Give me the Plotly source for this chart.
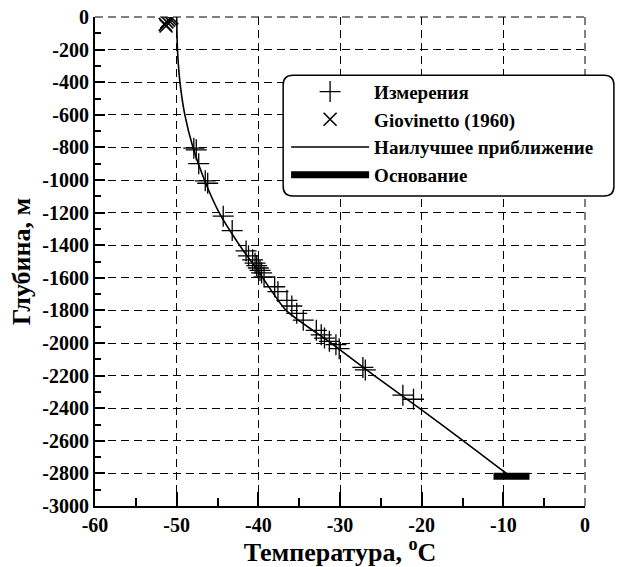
import plotly.graph_objects as go

# Borehole temperature measurements: temperature (°C) and depth (m)
meas_temp = [-47.9, -47.6, -47.3, -46.5, -46.2, -44.3, -43.2, -41.5, -41.2,
             -40.7, -40.4, -40.2, -40.0, -39.8, -39.6, -39.3, -38.0, -37.6,
             -36.5, -35.9, -35.3, -34.5, -32.9, -32.3, -31.9, -31.3, -30.5,
             -30.1, -27.2, -26.9, -22.3, -21.0]
meas_depth = [-805, -815, -900, -1005, -1020, -1222, -1310, -1435, -1465,
              -1490, -1510, -1525, -1540, -1555, -1570, -1595, -1655, -1685,
              -1738, -1773, -1818, -1860, -1922, -1950, -1970, -1990, -2010,
              -2035, -2150, -2165, -2320, -2345]

# Near-surface temperatures after Giovinetto (1960)
gio_temp = [-51.4, -51.2, -51.0, -50.8, -50.6, -51.3]
gio_depth = [-45, -30, -20, -12, -5, -55]

# Best-fit temperature profile
fit_temp = [-50.0, -49.9, -49.6, -49.0, -48.0, -46.6, -44.8, -42.3, -40.0,
            -36.6, -31.1, -25.8, -20.3, -14.9, -9.6, -8.9]
fit_depth = [0, -200, -400, -600, -800, -1000, -1200, -1400, -1560,
             -1800, -2000, -2200, -2400, -2600, -2800, -2818]

# Ice sheet base
base_temp = [-11.2, -6.8]
base_depth = [-2818, -2818]

x_ticks = [-60, -50, -40, -30, -20, -10, 0]
y_ticks = list(range(0, -3001, -200))

FONT = "Liberation Serif"
BLACK = "#000000"

fig = go.Figure()
fig.add_trace(go.Scatter(
    x=meas_temp, y=meas_depth, mode="markers", name="<b>Измерения</b>",
    marker=dict(symbol="cross-thin", size=15, color=BLACK,
                line=dict(color=BLACK, width=1.3))))
fig.add_trace(go.Scatter(
    x=gio_temp, y=gio_depth, mode="markers", name="<b>Giovinetto (1960)</b>",
    marker=dict(symbol="x-thin", size=13, color=BLACK,
                line=dict(color=BLACK, width=1.6))))
fig.add_trace(go.Scatter(
    x=fit_temp, y=fit_depth, mode="lines", name="<b>Наилучшее приближение</b>",
    line=dict(color=BLACK, width=1.6, shape="spline", smoothing=0.6)))
fig.add_trace(go.Scatter(
    x=base_temp, y=base_depth, mode="lines", name="<b>Основание</b>",
    line=dict(color=BLACK, width=7)))

axis_common = dict(
    showline=True, linecolor=BLACK, linewidth=2, automargin=False,
    showgrid=True, gridcolor=BLACK, gridwidth=1, griddash="8px,5px",
    zeroline=False, ticks="inside", tickcolor=BLACK, tickwidth=2,
    tickfont=dict(family=FONT, size=20, color=BLACK, weight="bold"),
)

fig.update_xaxes(
    range=[-60, 0], tickvals=x_ticks,
    ticktext=[f"<b>{v}</b>" for v in x_ticks], ticklen=14,
    minor=dict(dtick=5, ticks="inside", ticklen=8, tickwidth=2,
               tickcolor=BLACK, showgrid=False),
    title=dict(text="<b>Температура, <sup>o</sup>C</b>",
               font=dict(family=FONT, size=26, color=BLACK), standoff=2),
    **axis_common)
fig.update_yaxes(
    range=[-3000, 0], tickvals=y_ticks,
    ticktext=[f"<b>{v}</b>" for v in y_ticks], ticklen=10,
    minor=dict(dtick=100, ticks="inside", ticklen=6, tickwidth=2,
               tickcolor=BLACK, showgrid=False),
    title=dict(text="<b>Глубина, м</b>",
               font=dict(family=FONT, size=26, color=BLACK), standoff=4),
    **axis_common)

# Dashed grid lines along the top (0 m) and right (0 °C) edges
edge_line = dict(color=BLACK, width=1, dash="8px,5px")
fig.add_shape(type="line", xref="paper", yref="paper",
              x0=0, x1=1, y0=1, y1=1, line=edge_line, layer="below")
fig.add_shape(type="line", xref="paper", yref="paper",
              x0=1, x1=1, y0=0, y1=1, line=edge_line, layer="below")

# Rounded frame behind the legend
r = 0.02
x0, x1, y0, y1 = 0.384, 1.059, 0.634, 0.881
path = (f"M {x0+r},{y1} L {x1-r},{y1} Q {x1},{y1} {x1},{y1-r} "
        f"L {x1},{y0+r} Q {x1},{y0} {x1-r},{y0} L {x0+r},{y0} "
        f"Q {x0},{y0} {x0},{y0+r} L {x0},{y1-r} Q {x0},{y1} {x0+r},{y1} Z")
fig.add_shape(type="path", path=path, xref="paper", yref="paper",
              fillcolor="white", line=dict(color=BLACK, width=1.5),
              layer="above")

fig.update_layout(
    width=617, height=567,
    margin=dict(l=95, r=32, t=17, b=61),
    paper_bgcolor="white", plot_bgcolor="white",
    showlegend=True,
    legend=dict(x=0.39, y=0.886, xanchor="left", yanchor="top",
                bgcolor="rgba(0,0,0,0)", borderwidth=0, itemwidth=78,
                font=dict(family=FONT, size=19, color=BLACK),
                tracegroupgap=0),
    font=dict(family=FONT, color=BLACK),
)

fig.write_html("out.html")
